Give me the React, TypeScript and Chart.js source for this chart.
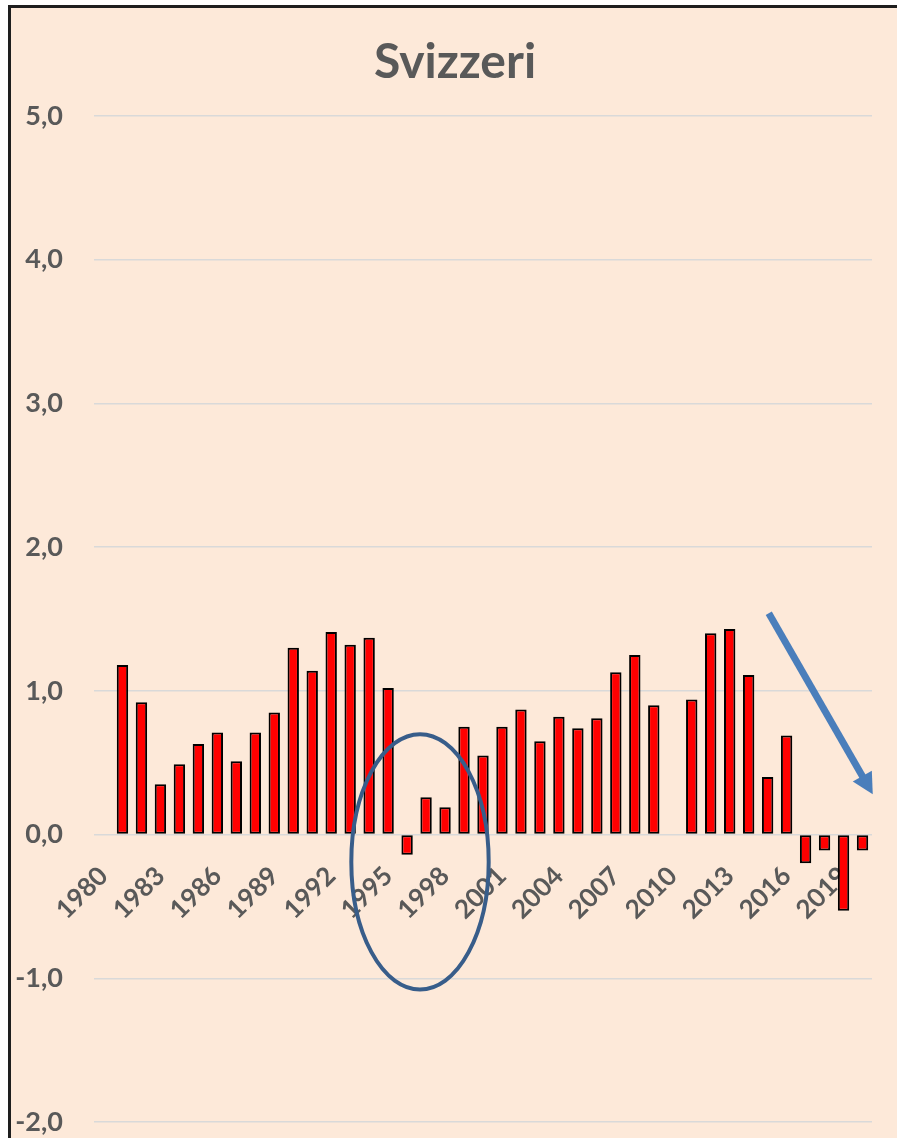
import React, { useEffect, useRef } from "react";
import { Chart, registerables } from "chart.js";

Chart.register(...registerables);

const years: string[] = [
  "1980", "1981", "1982", "1983", "1984", "1985", "1986", "1987", "1988", "1989",
  "1990", "1991", "1992", "1993", "1994", "1995", "1996", "1997", "1998", "1999",
  "2000", "2001", "2002", "2003", "2004", "2005", "2006", "2007", "2008", "2009",
  "2010", "2011", "2012", "2013", "2014", "2015", "2016", "2017", "2018", "2019",
  "2020",
];

const values: (number | null)[] = [
  null, 1.18, 0.92, 0.35, 0.49, 0.63, 0.71, 0.51, 0.71, 0.85,
  1.30, 1.14, 1.41, 1.32, 1.37, 1.02, -0.14, 0.26, 0.19, 0.75,
  0.55, 0.75, 0.87, 0.65, 0.82, 0.74, 0.81, 1.13, 1.25, 0.90,
  null, 0.94, 1.40, 1.43, 1.11, 0.40, 0.69, -0.20, -0.11, -0.53,
  -0.11,
];

const yTicks: number[] = [-2, -1, 0, 1, 2, 3, 4, 5];
const titleText = "Svizzeri";

// annotation anchors in data space (category index, value)
const ellipseCenter = { x: 16.68, y: -0.19 };
const ellipseRadius = { x: 3.62, y: 0.888 };
const arrowStart = { x: 35.06, y: 1.54 };
const arrowEnd = { x: 40.54, y: 0.28 };

const FONT = "Lato, 'Open Sans', sans-serif";
const TEXT = "#595959";
const PANEL = "#FDE9D9";

const panel = {
  id: "panel",
  afterLayout(chart: any) {
    // centre the title over the framed panel rather than the canvas
    const t = chart.titleBlock;
    if (t) {
      t.left = 13;
      t.right = chart.width;
      t.width = t.right - t.left;
    }
  },
  beforeDraw(chart: any) {
    const { ctx, width, height } = chart;
    ctx.save();
    ctx.fillStyle = "#FFFFFF";
    ctx.fillRect(0, 0, width, height);
    ctx.fillStyle = PANEL;
    ctx.fillRect(8, 5, width - 8, height - 5);
    ctx.beginPath();
    ctx.moveTo(9.5, height);
    ctx.lineTo(9.5, 6.5);
    ctx.lineTo(width, 6.5);
    ctx.strokeStyle = "#1E1E1E";
    ctx.lineWidth = 3;
    ctx.stroke();
    ctx.restore();
  },
};

const annotations = {
  id: "annotations",
  afterDatasetsDraw(chart: any) {
    const { ctx, scales } = chart;
    const xs = scales.x;
    const ys = scales.y;
    const cx = xs.getPixelForValue(ellipseCenter.x);
    const cy = ys.getPixelForValue(ellipseCenter.y);
    const rx = Math.abs(xs.getPixelForValue(ellipseCenter.x + ellipseRadius.x) - cx);
    const ry = Math.abs(ys.getPixelForValue(ellipseCenter.y + ellipseRadius.y) - cy);
    ctx.save();
    ctx.beginPath();
    ctx.ellipse(cx, cy, rx, ry, 0, 0, Math.PI * 2);
    ctx.strokeStyle = "#385D8A";
    ctx.lineWidth = 4;
    ctx.stroke();
    const x1 = xs.getPixelForValue(arrowStart.x);
    const y1 = ys.getPixelForValue(arrowStart.y);
    const x2 = xs.getPixelForValue(arrowEnd.x);
    const y2 = ys.getPixelForValue(arrowEnd.y);
    const dx = x2 - x1;
    const dy = y2 - y1;
    const len = Math.sqrt(dx * dx + dy * dy);
    const ux = dx / len;
    const uy = dy / len;
    const headL = 21;
    const headW = 11;
    const bx = x2 - ux * headL;
    const by = y2 - uy * headL;
    ctx.beginPath();
    ctx.moveTo(x1, y1);
    ctx.lineTo(bx + ux * 2, by + uy * 2);
    ctx.strokeStyle = "#4A7EBB";
    ctx.lineWidth = 7;
    ctx.lineCap = "butt";
    ctx.stroke();
    ctx.beginPath();
    ctx.moveTo(x2, y2);
    ctx.lineTo(bx - uy * headW, by + ux * headW);
    ctx.lineTo(bx + uy * headW, by - ux * headW);
    ctx.closePath();
    ctx.fillStyle = "#4A7EBB";
    ctx.fill();
    ctx.restore();
  },
};

export default function App() {
  const ref = useRef<HTMLCanvasElement | null>(null);

  useEffect(() => {
    document.documentElement.style.overflow = "hidden";
    document.body.style.overflow = "hidden";
    document.body.style.margin = "0";
    if (!ref.current) return;
    const chart = new Chart(ref.current, {
      type: "bar",
      data: {
        labels: years,
        datasets: [
          {
            data: values,
            backgroundColor: "#FF0000",
            borderColor: "#000000",
            borderWidth: 2,
            borderSkipped: false,
            categoryPercentage: 1,
            barPercentage: 0.6,
          },
        ],
      },
      options: {
        responsive: false,
        animation: false,
        devicePixelRatio: 1,
        layout: { padding: { top: 0, right: 25, bottom: 16, left: 0 } },
        plugins: {
          legend: { display: false },
          tooltip: { enabled: false },
          title: {
            display: true,
            text: titleText,
            color: TEXT,
            font: { family: FONT, weight: "bold", size: 48 },
            padding: { top: 34, bottom: 24.4 },
          },
        },
        scales: {
          x: {
            position: { y: 0 } as any,
            grid: { display: false, drawTicks: false },
            border: { display: false },
            ticks: {
              autoSkip: false,
              minRotation: 45,
              maxRotation: 45,
              padding: 26,
              color: TEXT,
              font: { family: FONT, weight: "bold", size: 26 },
              callback: (_v: any, i: number) => (i % 3 === 0 ? years[i] : ""),
            },
            afterFit: (s: any) => {
              s.height = 0;
              s.paddingLeft = 0;
              s.paddingRight = 0;
              s.paddingTop = 0;
              s.paddingBottom = 0;
            },
          },
          y: {
            min: -2,
            max: 5,
            afterBuildTicks: (s: any) => {
              s.ticks = yTicks.map((v) => ({ value: v }));
            },
            grid: { color: "#D9D9D9", lineWidth: 1.5, drawTicks: false },
            border: { display: false },
            ticks: {
              padding: 31,
              color: TEXT,
              font: { family: FONT, weight: "bold", size: 27 },
              callback: (v: any) => Number(v).toFixed(1).replace(".", ","),
            },
            afterFit: (s: any) => {
              s.width = 94;
              s.paddingTop = 0;
              s.paddingBottom = 0;
            },
          },
        },
      },
      plugins: [panel, annotations],
    });
    return () => chart.destroy();
  }, []);

  return (
    <canvas
      ref={ref}
      width={897}
      height={1138}
      style={{ position: "fixed", left: 0, top: 0, width: 897, height: 1138, display: "block" }}
    />
  );
}
